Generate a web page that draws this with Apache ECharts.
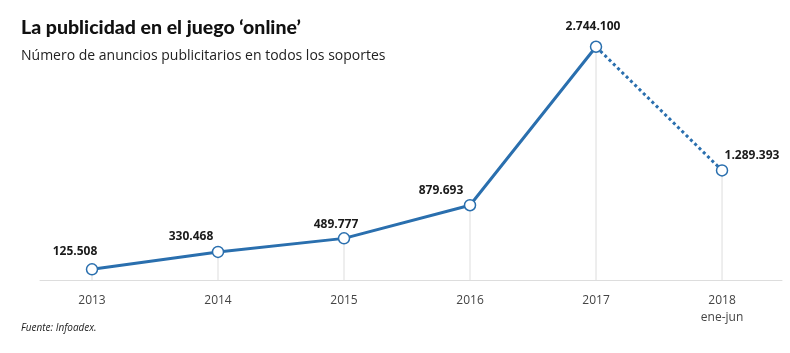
<!DOCTYPE html>
<html lang="es">
<head>
<meta charset="utf-8">
<title>La publicidad en el juego online</title>
<script src="https://cdn.jsdelivr.net/npm/echarts@6.0.0/dist/echarts.min.js"></script>
<style>
  html, body { margin: 0; padding: 0; background: #fff; }
  #main { width: 790px; height: 353px; }
</style>
</head>
<body>
<div id="main"></div>
<script>
  // datos
  var years = ['2013', '2014', '2015', '2016', '2017', '2018\nene-jun'];
  var anuncios = [125508, 330468, 489777, 879693, 2744100, 1289393];
  // desplazamiento de cada etiqueta [dx, dy]
  var labelOffsets = [[-17, -1], [-27, 2], [-8, 3], [-29, 3], [-3, -3], [30, 2]];

  var blue = '#2a6fae';

  function fmt(n) {
    return String(n).replace(/\B(?=(\d{3})+(?!\d))/g, '.');
  }

  var points = anuncios.map(function (v, i) { return [i, v]; });
  var solid = points.slice(0, 5);
  var dotted = points.slice(4);

  var chart = echarts.init(document.getElementById('main'));
  chart.setOption({
    animation: false,
    title: [{
      text: 'La publicidad en el juego ‘online’',
      left: 16, top: 13,
      textStyle: { fontFamily: 'Lato', fontWeight: 900, fontSize: 19.5, color: '#111' }
    }, {
      text: 'Número de anuncios publicitarios en todos los soportes',
      left: 16, top: 44,
      textStyle: { fontFamily: 'Open Sans', fontWeight: 'normal', fontSize: 14, color: '#222' }
    }, {
      text: 'Fuente: Infoadex.',
      left: 16, top: 318,
      textStyle: { fontFamily: 'Open Sans', fontStyle: 'italic', fontWeight: 'normal', fontSize: 10, color: '#222' }
    }],
    grid: { left: 40, right: 8, top: 42, bottom: 73 },
    xAxis: {
      type: 'value',
      min: -0.4127,
      max: 5.476,
      splitLine: { show: false },
      axisLine: { show: true, lineStyle: { color: '#dddddd', width: 1 } },
      axisTick: { show: false },
      axisLabel: {
        customValues: [0, 1, 2, 3, 4, 5],
        formatter: function (v) { return years[Math.round(v)]; },
        margin: 12,
        fontFamily: 'Open Sans',
        fontSize: 12,
        lineHeight: 17,
        color: '#444'
      }
    },
    yAxis: {
      type: 'value',
      min: 0,
      max: 2800000,
      show: false,
      splitLine: { show: false }
    },
    series: [{
      type: 'bar',
      data: points,
      barWidth: 1,
      itemStyle: { color: '#dddddd' },
      silent: true,
      z: 1
    }, {
      type: 'line',
      data: solid,
      showSymbol: false,
      lineStyle: { color: blue, width: 3 },
      z: 2
    }, {
      type: 'line',
      data: dotted,
      showSymbol: false,
      lineStyle: { color: blue, width: 3, type: [3, 3] },
      z: 2
    }, {
      type: 'scatter',
      data: points,
      symbol: 'circle',
      symbolSize: 11,
      itemStyle: { color: '#ffffff', opacity: 1, borderColor: blue, borderWidth: 1.5 },
      label: {
        show: true,
        position: 'top',
        distance: 5,
        fontFamily: 'Open Sans',
        fontWeight: 'bold',
        fontSize: 12,
        color: '#1a1a1a',
        formatter: function (p) { return fmt(p.value[1]); }
      },
      labelLayout: function (p) {
        var o = labelOffsets[p.dataIndex];
        return { dx: o[0], dy: o[1] };
      },
      z: 3
    }]
  });
</script>
</body>
</html>
